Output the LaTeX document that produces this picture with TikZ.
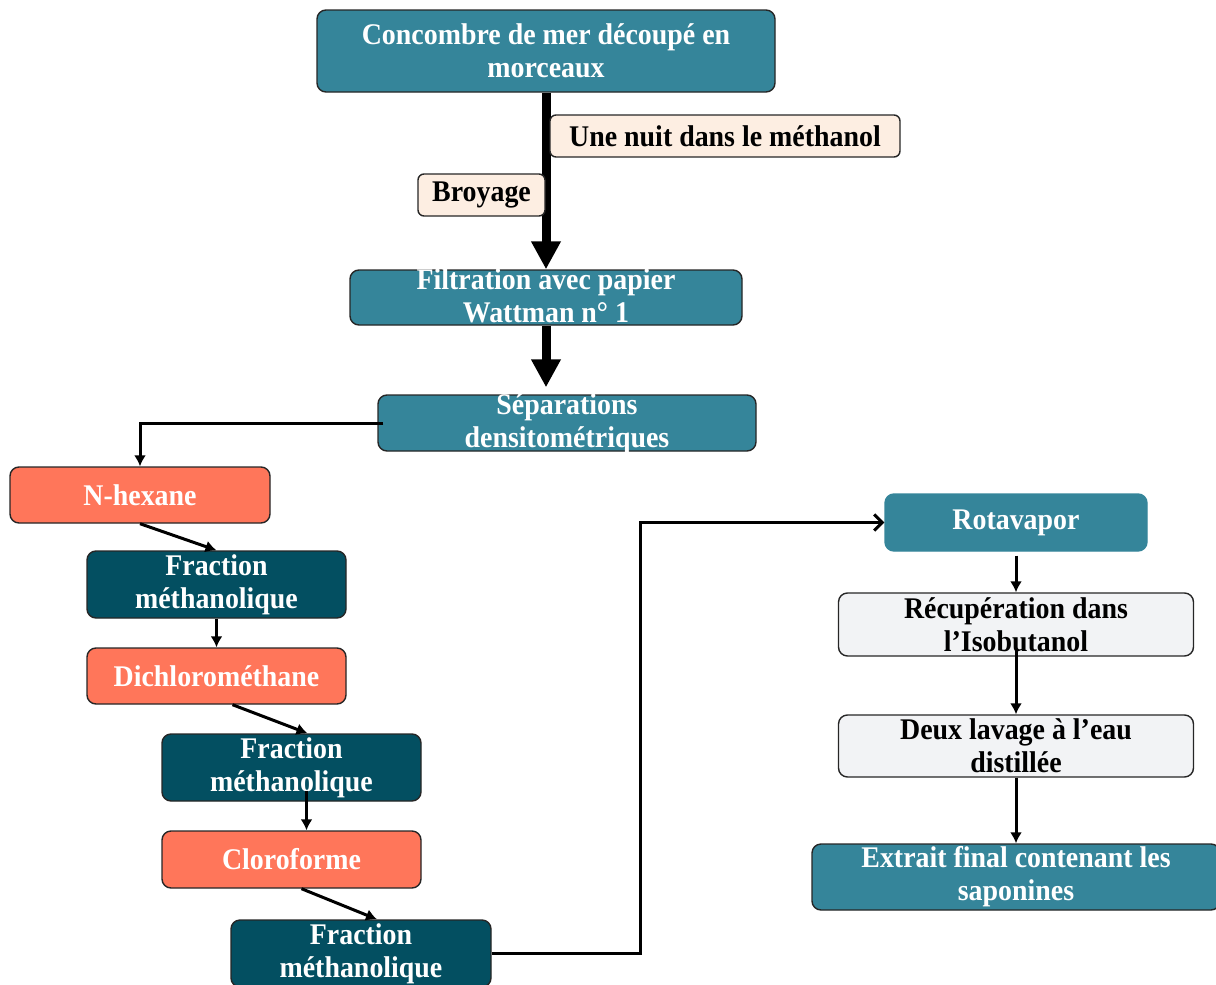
\documentclass[tikz,border=0pt]{standalone}
\usepackage{fontspec}
\setmainfont{Liberation Serif}[FakeStretch=0.93]
\usepackage{xcolor}
\usetikzlibrary{arrows.meta,positioning}

\definecolor{colTeal}{HTML}{35859A}
\definecolor{colDark}{HTML}{034F61}
\definecolor{colCoral}{HTML}{FF765A}
\definecolor{colPeach}{HTML}{FDEEE2}
\definecolor{colGrey}{HTML}{F2F3F5}

\tikzset{
  box/.style={draw=black!85, line width=0.7pt, rounded corners=4.5pt, align=center,
    inner sep=0pt, font=\fontsize{15}{16.5}\selectfont\bfseries},
  procbox/.style={box, fill=colTeal, text=white},
  solvbox/.style={box, fill=colCoral, text=white},
  fracbox/.style={box, fill=colDark, text=white},
  notebox/.style={box, fill=colPeach, text=black, rounded corners=3pt},
  washbox/.style={box, fill=colGrey, text=black},
  bigflow/.style={line width=4.5pt, -{Triangle[length=14pt,width=14pt]}},
  flow/.style={line width=1.5pt, -{Latex[length=5.5pt,width=6pt]}},
  openflow/.style={line width=1.5pt, -{Straight Barb[length=4pt,width=8pt,line width=1.5pt]}}
}
% two lines that may stand out of a flat box
\newcommand{\tightlines}[1]{\raisebox{-9pt}{\smash{\begin{tabular}{@{}c@{}}#1\end{tabular}}}}

\begin{document}
\begin{tikzpicture}[x=0.5pt, y=-0.5pt]
\useasboundingbox (0,0) rectangle (1216,985);
% main line
\node[procbox, minimum width=229pt, minimum height=41pt] (cut) at (546,51) {Concombre de mer découpé en\\morceaux};
\node[procbox, minimum width=196pt, minimum height=27.5pt] (filt) at (546,297.5) {\tightlines{Filtration avec papier\\Wattman n° 1}};
\node[procbox, minimum width=189pt, minimum height=28pt] (sep) at (567,423) {\tightlines{Séparations\\densitométriques}};
\draw[bigflow] (cut.south) -- (filt.north);
\draw[bigflow, shorten >=3.5pt] (filt.south) -- (filt.south |- sep.north);
\node[notebox, minimum width=175pt, minimum height=21pt] (night) at (725,136) {Une nuit dans le méthanol};
\node[notebox, minimum width=63.5pt, minimum height=21pt] (grind) at (481.5,195) {Broyage};
% solvents
\node[solvbox, minimum width=130pt, minimum height=28pt] (hex) at (140,495) {N-hexane};
\node[fracbox, minimum width=129.5pt, minimum height=33.5pt] (frac1) at (216.5,584.5) {Fraction\\méthanolique};
\node[solvbox, minimum width=129.5pt, minimum height=28pt] (dcm) at (216.5,676) {Dichlorométhane};
\node[fracbox, minimum width=129.5pt, minimum height=33.5pt] (frac2) at (291.5,767.5) {Fraction\\méthanolique};
\node[solvbox, minimum width=129.5pt, minimum height=28.5pt] (chl) at (291.5,859.5) {Cloroforme};
\node[fracbox, minimum width=130pt, minimum height=33.5pt] (frac3) at (361,953.5) {Fraction\\méthanolique};
\draw[flow] ([xshift=3pt]sep.west) -| (hex.north);
\draw[flow] (hex.south) -- (frac1.north);
\draw[flow] (frac1.south) -- (dcm.north);
\draw[flow] ([xshift=8pt]dcm.south) -- ([xshift=8pt]frac2.north);
\draw[flow] ([xshift=7.5pt,yshift=5.5pt]frac2.south) -- ([xshift=7.5pt]chl.north);
\draw[flow] ([xshift=5pt]chl.south) -- ([xshift=8pt]frac3.north);
% saponins
\node[procbox, draw=colTeal, minimum width=131pt, minimum height=28.5pt] (rota) at (1016,522.5) {\raisebox{-1.5pt}{Rotavapor}};
\node[washbox, minimum width=177.5pt, minimum height=31.5pt] (recup) at (1016,624.5) {Récupération dans\\l’Isobutanol};
\node[washbox, minimum width=177.5pt, minimum height=31pt] (wash) at (1016,746) {Deux lavage à l’eau\\distillée};
\node[procbox, minimum width=204pt, minimum height=33pt] (final) at (1016,877) {Extrait final contenant les\\saponines};
\draw[openflow] (frac3.east) -- ++(149,0) |- (rota.west);
\draw[flow, shorten <=2pt] (rota.south) -- (recup.north);
\draw[flow] ([yshift=4pt]recup.south) -- (wash.north);
\draw[flow] (wash.south) -- (final.north);
\end{tikzpicture}
\end{document}
